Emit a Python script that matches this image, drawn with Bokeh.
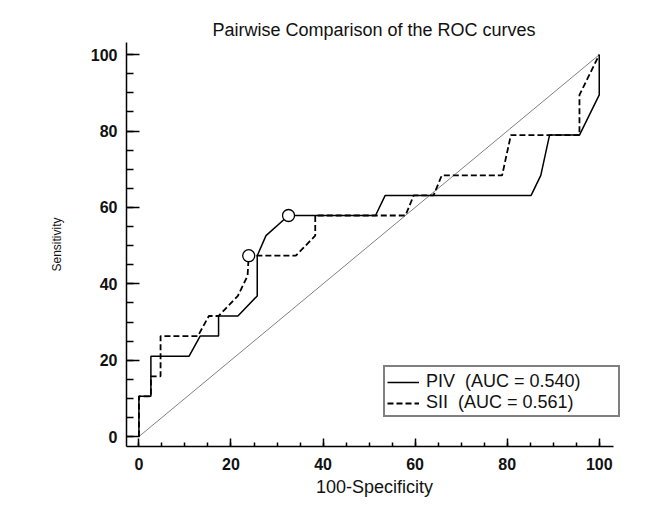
from bokeh.plotting import figure
from bokeh.models import FixedTicker, Legend, LegendItem
from bokeh.embed import file_html
from bokeh.resources import INLINE

# ---- data ----
piv_x = [0, 0, 2.6, 2.6, 10.9, 13.3, 17.3, 17.3, 21.5, 25.7, 25.7, 27.6, 32.5, 51.4, 53.5, 85.2, 87.3, 89.2, 95.7, 100, 100]
piv_y = [0, 10.53, 10.53, 21.05, 21.05, 26.32, 26.32, 31.58, 31.58, 36.84, 47.37, 52.63, 57.89, 57.89, 63.16, 63.16, 68.42, 78.95, 78.95, 89.47, 100]

sii_x = [0, 0, 2.6, 2.6, 4.7, 4.7, 12.8, 15.2, 17.3, 21.5, 23.6, 23.85, 34.1, 38.3, 38.3, 57.9, 59.7, 64.0, 65.8, 78.9, 80.8, 95.7, 95.7, 100]
sii_y = [0, 10.53, 10.53, 15.79, 15.79, 26.32, 26.32, 31.58, 31.58, 36.84, 42.11, 47.37, 47.37, 52.63, 57.89, 57.89, 63.16, 63.16, 68.42, 68.42, 78.95, 78.95, 89.47, 100]

diag_x = [0, 100]
diag_y = [0, 100]

# optimal criterion points (open circles)
opt_x = [23.85, 32.5]
opt_y = [47.37, 57.89]

legend_labels = ["PIV  (AUC = 0.540)", "SII  (AUC = 0.561)"]
major_ticks = [0, 20, 40, 60, 80, 100]
minor_ticks = [0, 5, 10, 15, 20, 25, 30, 35, 40, 45, 50, 55, 60, 65, 70, 75, 80, 85, 90, 95, 100]

FONT = "Liberation Sans"

p = figure(width=664, height=499, x_range=(-2.7, 105.05), y_range=(-2.6, 103.2),
           output_backend="svg", toolbar_location=None,
           min_border_left=126, min_border_right=42, min_border_top=42, min_border_bottom=50,
           x_axis_label="100-Specificity", y_axis_label="Sensitivity")

p.title.text = "Pairwise Comparison of the ROC curves"
p.title.align = "left"
p.title.offset = 86
p.title.text_font = FONT
p.title.text_font_size = "18px"
p.title.text_font_style = "normal"
p.title.text_color = "#111111"
p.title.standoff = 5

p.outline_line_color = None
p.xgrid.visible = False
p.ygrid.visible = False
p.background_fill_color = "white"
p.border_fill_color = "white"

for ax in (p.xaxis[0], p.yaxis[0]):
    ax.ticker = FixedTicker(ticks=major_ticks, minor_ticks=minor_ticks)
    ax.axis_line_color = "black"
    ax.axis_line_width = 1.5
    ax.major_tick_line_color = "black"
    ax.major_tick_line_width = 1.5
    ax.minor_tick_line_color = "black"
    ax.minor_tick_line_width = 1.5
    ax.major_tick_out = 0
    ax.minor_tick_out = 0
    ax.major_label_text_font = FONT
    ax.major_label_text_font_size = "16px"
    ax.major_label_text_font_style = "bold"
    ax.major_label_text_color = "#111111"
    ax.axis_label_text_font = FONT
    ax.axis_label_text_font_style = "normal"
    ax.axis_label_text_color = "#111111"

p.xaxis.bounds = (-2.7, 103.1)
p.xaxis.major_tick_in = 8
p.xaxis.minor_tick_in = 4
p.xaxis.major_label_standoff = 11
p.xaxis.axis_label_standoff = 4
p.xaxis.axis_label_text_font_size = "18px"

p.yaxis.major_tick_in = 13
p.yaxis.minor_tick_in = 7
p.yaxis.major_label_standoff = 9
p.yaxis.axis_label_standoff = 24
p.yaxis.axis_label_text_font_size = "12px"

p.line(diag_x, diag_y, line_color="#808080", line_width=1)
r_piv = p.line(piv_x, piv_y, line_color="black", line_width=1.5)
r_sii = p.line(sii_x, sii_y, line_color="black", line_width=1.8, line_dash="6 3")
p.scatter(opt_x, opt_y, marker="circle", size=12, fill_color="white",
          line_color="black", line_width=1.3)

legend = Legend(items=[LegendItem(label=legend_labels[0], renderers=[r_piv]),
                       LegendItem(label=legend_labels[1], renderers=[r_sii])],
                location=(257, 29), padding=2, spacing=-5, margin=0,
                title=" ", title_text_font_size="1px", title_standoff=1,
                label_height=20, glyph_height=20, glyph_width=32, label_standoff=7,
                label_width=190, border_line_color="black", border_line_width=2,
                label_text_font=FONT, label_text_font_size="18px", label_text_color="#111111",
                background_fill_color="white", background_fill_alpha=1)
p.add_layout(legend)

open("out.html", "w").write(file_html(p, INLINE))
